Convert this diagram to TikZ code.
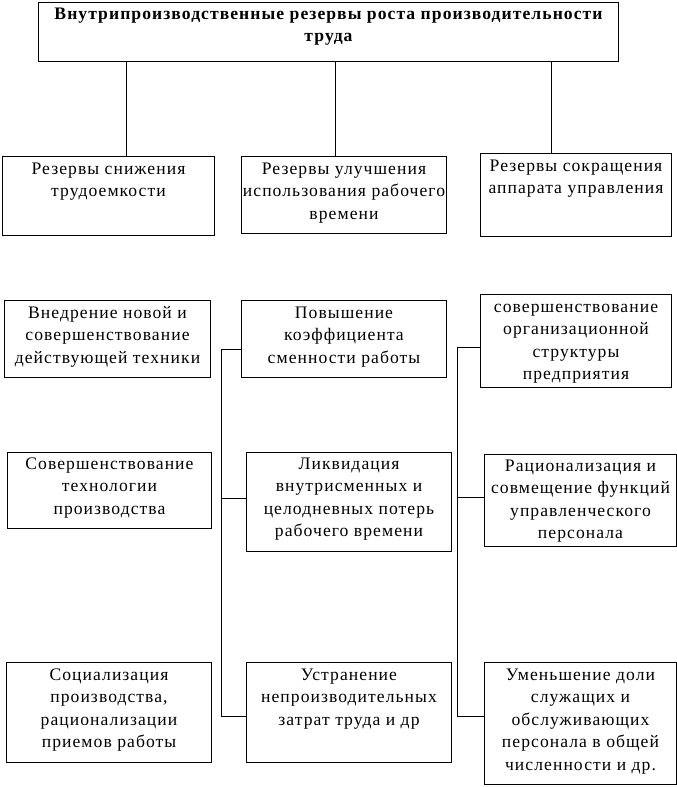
\documentclass[tikz,border=0pt]{standalone}
\usepackage{fontspec}
\setmainfont{Liberation Serif}[LetterSpace=6]
\newcommand\cl[1]{\makebox[0pt]{#1}}
\newcommand\bx[7]{%
  \node[box] (#1) at (#2,#3) {\parbox[c][\dimexpr #5pt-#3pt\relax][t]{\dimexpr #4pt-#2pt\relax}{%
    \centering\fontsize{17.6}{22.5}\selectfont\vspace*{#6pt}\strut #7}};}
\begin{document}
\begin{tikzpicture}[x=1pt,y=-1pt,
  box/.style={draw, line width=1pt, inner sep=0pt, anchor=north west},
  link/.style={draw, line width=0.9pt}]
\useasboundingbox (0,0) rectangle (677,787);
\node[box] (T) at (38,2) {\parbox[c][59pt][t]{580pt}{\centering\fontsize{17.6}{22.5}\selectfont\bfseries\vspace*{1pt}\strut
  \cl{Внутрипроизводственные резервы роста производительности}\\ \cl{труда}}};
\bx{A1}{2}{156}{214}{235}{2}{\cl{Резервы снижения}\\ \cl{трудоемкости}}
\bx{A2}{241}{156}{446}{233}{2}{\cl{Резервы улучшения}\\ \cl{использования рабочего}\\ \cl{времени}}
\bx{A3}{480}{153}{671}{236}{2}{\cl{Резервы сокращения}\\ \cl{аппарата управления}}
\bx{B1}{4}{300}{210}{377}{2}{\cl{Внедрение новой и}\\ \cl{совершенствование}\\ \cl{действующей техники}}
\bx{B2}{241}{300}{446}{377}{2}{\cl{Повышение}\\ \cl{коэффициента}\\ \cl{сменности работы}}
\bx{B3}{480}{294}{671}{387}{2}{\cl{совершенствование}\\ \cl{организационной}\\ \cl{структуры}\\ \cl{предприятия}}
\bx{C1}{7}{452}{211}{528}{1}{\cl{Совершенствование}\\ \cl{технологии}\\ \cl{производства}}
\bx{C2}{246}{452}{451}{551}{1}{\cl{Ликвидация}\\ \cl{внутрисменных и}\\ \cl{целодневных потерь}\\ \cl{рабочего времени}}
\bx{C3}{484}{454}{676}{546}{1}{\cl{Рационализация и}\\ \cl{совмещение функций}\\ \cl{управленческого}\\ \cl{персонала}}
\bx{D1}{6}{662}{211}{762}{2}{\cl{Социализация}\\ \cl{производства,}\\ \cl{рационализации}\\ \cl{приемов работы}}
\bx{D2}{246}{662}{451}{762}{2}{\cl{Устранение}\\ \cl{непроизводительных}\\ \cl{затрат труда и др}}
\bx{D3}{484}{662}{676}{784}{2}{\cl{Уменьшение доли}\\ \cl{служащих и}\\ \cl{обслуживающих}\\ \cl{персонала в общей}\\ \cl{численности и др.}}
% top connectors
\coordinate (t1) at (126,61);
\coordinate (t2) at (335,61);
\coordinate (t3) at (551,61);
\draw[link] (t1) -- (t1 |- A1.north);
\draw[link] (t2) -- (t2 |- A2.north);
\draw[link] (t3) -- (t3 |- A3.north);
% left bracket
\coordinate (l1) at (221,349);
\coordinate (l2) at (221,498);
\coordinate (l3) at (221,716);
\draw[link] (B2.west |- l1) -- (l1) -- (l3) -- (D2.west |- l3);
\draw[link] (l2) -- (C2.west |- l2);
% right bracket
\coordinate (r1) at (457,347);
\coordinate (r2) at (457,497);
\coordinate (r3) at (457,716);
\draw[link] (B3.west |- r1) -- (r1) -- (r3) -- (D3.west |- r3);
\draw[link] (r2) -- (C3.west |- r2);
\end{tikzpicture}
\end{document}
